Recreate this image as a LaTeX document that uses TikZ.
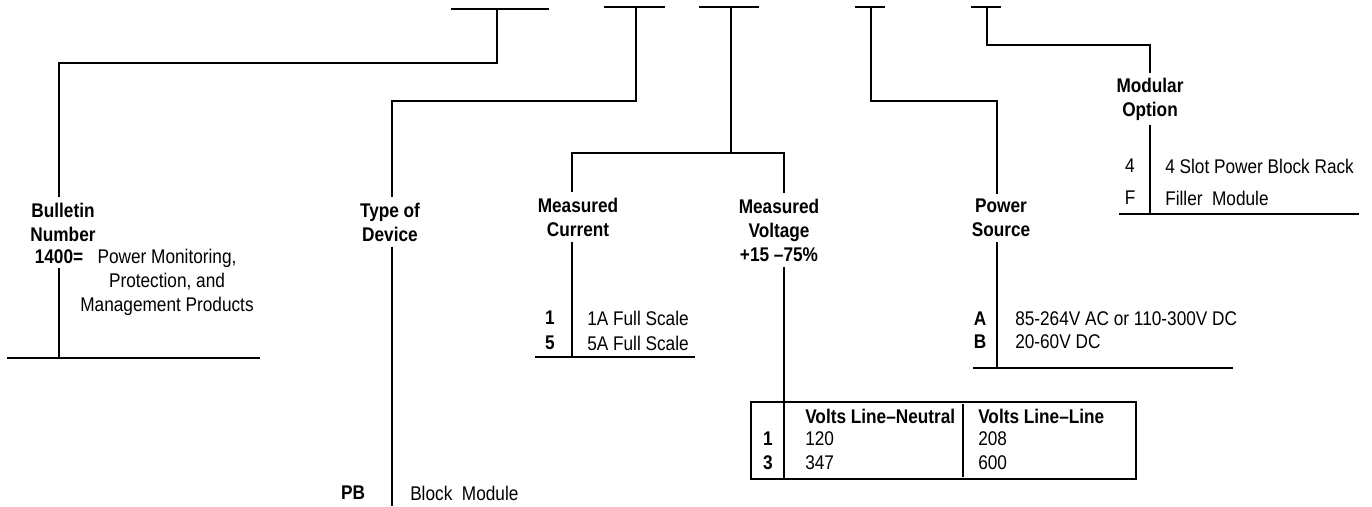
\documentclass[tikz,border=0pt]{standalone}
\usepackage{fontspec}
\setmainfont{Liberation Sans}[FakeStretch=0.87]
\usetikzlibrary{calc}
\newcommand\partfont{\fontsize{19.8}{24}\selectfont}
\tikzset{
  head/.style={font=\partfont\bfseries, align=center, inner sep=4pt},
  code/.style={font=\partfont\bfseries, inner sep=3pt},
  plain/.style={font=\partfont, inner sep=1pt},
  item/.style={font=\partfont, anchor=west, inner sep=1pt},
}

\begin{document}
\begin{tikzpicture}[x=1pt, y=-1pt, line width=2.5pt]
\useasboundingbox (0,0) rectangle (1372,506);
% Catalogue number fields
\foreach \l/\r/\y in {451/549/9, 604/665/7, 699/759/7, 855/885/7, 971/1001/7}{
  \draw (\l,\y) -- (\r,\y);
}
\coordinate (s1) at (497,9);
\coordinate (s2) at (636,7);
\coordinate (s3) at (731,7);
\coordinate (s4) at (871,7);
\coordinate (s5) at (987,7);
% Bottom ends of the field lines
\coordinate (bul) at (59,358);
\coordinate (dev) at (392,506);
\coordinate (cur) at (572,357);
\coordinate (vol) at (784,402);
\coordinate (pow) at (997,368);
\coordinate (mod) at (1150,214);
\coordinate (j3) at (731,153);
% Field headings
\node[head] (bulletin) at (63,222) {Bulletin\\Number};
\node[head] (device) at (390,222) {Type of\\Device};
\node[head] (current) at (578,217) {Measured\\Current};
\node[head] (voltage) at (779,230) {Measured\\Voltage\\+15 --75\%};
\node[head] (power) at (1001,218) {Power\\Source};
\node[head] (modular) at (1150,99) {Modular\\Option};
% Bulletin number
\node[code] (c1400) at (59,257) {1400=};
\node[plain, align=center] (bulldesc) at (167,282) {Power Monitoring,\\Protection, and\\Management Products};
\draw (7,358) -- (260,358);
\draw (s1) -- ++(0,54) -| (bulletin.north -| bul);
\draw (c1400.south -| bul) -- (bul);
% Type of device
\draw (s2) -- ++(0,94) -| (device.north -| dev);
\draw (device.south -| dev) -- (dev);
\node[code] (pb) at (353,493) {PB};
\node[item] (pbtext) at (408,493) {Block\ \ Module};
% Measured current and voltage
\draw (s3) -- (j3);
\draw (current.north -| cur) |- (j3) -| (voltage.north -| vol);
\draw (current.south -| cur) -- (cur);
\draw (535,357) -- (695,357);
\foreach \c/\t/\y in {1/1A Full Scale/318, 5/5A Full Scale/343}{
  \node[code] (cur\c) at (550,\y) {\c};
  \node[item] (curtext\c) at (585,\y) {\t};
}
\draw (voltage.south -| vol) -- (vol);
% Voltage table
\draw (751,402) rectangle (1136,479);
\draw (vol) -- (vol |- 0,479);
\draw (963,404) -- (963,477);
\node[item, font=\partfont\bfseries] (hdln) at (803,416) {Volts Line--Neutral};
\node[item, font=\partfont\bfseries] (hdll) at (976,416) {Volts Line--Line};
\foreach \c/\n/\m/\y in {1/120/208/439, 3/347/600/463}{
  \node[code] (vol\c) at (768,\y) {\c};
  \node[item] (voln\c) at (803,\y) {\n};
  \node[item] (voll\c) at (976,\y) {\m};
}
% Power source
\draw (s4) -- ++(0,94) -| (power.north -| pow);
\draw (power.south -| pow) -- (pow);
\draw (973,368) -- (1233,368);
\foreach \c/\t/\y in {A/85-264V AC or 110-300V DC/319, B/20-60V DC/342}{
  \node[code] (pow\c) at (980,\y) {\c};
  \node[item] (powtext\c) at (1013,\y) {\t};
}
% Modular option
\draw (s5) -- ++(0,38) -| (modular.north -| mod);
\draw (modular.south -| mod) -- (mod);
\draw (1119,214) -- (1359,214);
\foreach \c/\t/\y in {4/4 Slot Power Block Rack/166, F/Filler\ \ Module/198}{
  \node[plain] (mod\c) at (1130,\y) {\c};
  \node[item] (modtext\c) at (1163,\y) {\t};
}
\end{tikzpicture}
\end{document}
